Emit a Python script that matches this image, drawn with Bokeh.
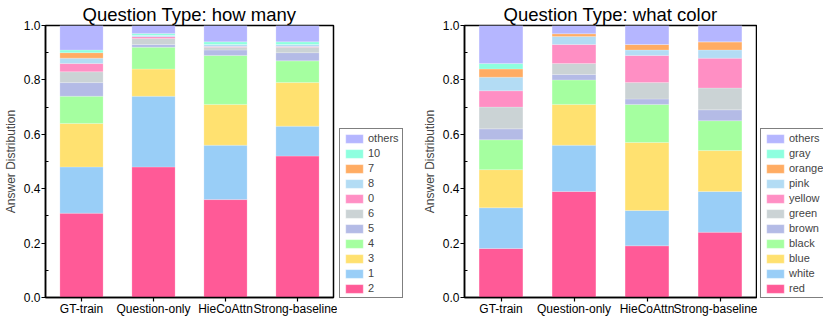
from bokeh.plotting import figure
from bokeh.models import FactorRange, Range1d, Legend, LegendItem, FixedTicker, NumeralTickFormatter
from bokeh.layouts import row
from bokeh.embed import file_html
from bokeh.resources import INLINE

models = ["GT-train", "Question-only", "HieCoAttn", "Strong-baseline"]

# ---- Question Type: how many (segment proportions, bottom to top) ----
hm_answers = ["2", "1", "3", "4", "5", "6", "0", "8", "7", "10", "others"]
hm_2 = [0.31, 0.48, 0.36, 0.52]
hm_1 = [0.17, 0.26, 0.20, 0.11]
hm_3 = [0.16, 0.10, 0.15, 0.16]
hm_4 = [0.10, 0.08, 0.18, 0.08]
hm_5 = [0.05, 0.01, 0.02, 0.03]
hm_6 = [0.04, 0.022, 0.01, 0.02]
hm_0 = [0.03, 0.007, 0.003, 0.003]
hm_8 = [0.02, 0.005, 0.007, 0.007]
hm_7 = [0.02, 0.0, 0.0, 0.0]
hm_10 = [0.01, 0.007, 0.01, 0.01]
hm_others = [0.09, 0.029, 0.06, 0.06]

# ---- Question Type: what color ----
wc_answers = ["red", "white", "blue", "black", "brown", "green", "yellow", "pink", "orange", "gray", "others"]
wc_red = [0.18, 0.39, 0.19, 0.24]
wc_white = [0.15, 0.17, 0.13, 0.15]
wc_blue = [0.14, 0.15, 0.25, 0.15]
wc_black = [0.11, 0.09, 0.14, 0.11]
wc_brown = [0.04, 0.02, 0.02, 0.04]
wc_green = [0.08, 0.04, 0.06, 0.08]
wc_yellow = [0.06, 0.07, 0.10, 0.11]
wc_pink = [0.05, 0.03, 0.02, 0.03]
wc_orange = [0.03, 0.01, 0.02, 0.03]
wc_gray = [0.02, 0.0, 0.0, 0.0]
wc_others = [0.14, 0.03, 0.07, 0.06]

y_ticks = [0.0, 0.2, 0.4, 0.6, 0.8, 1.0]
y_minor = [0.1, 0.3, 0.5, 0.7, 0.9]

colors = ["#FF5A97", "#99CEF7", "#FFE170", "#A5FFA0", "#B4BBE6", "#CBD3D5",
          "#FF8FC4", "#B3DCF4", "#FFAC63", "#8EFFDF", "#B5B6FF"]

hm_series = [hm_2, hm_1, hm_3, hm_4, hm_5, hm_6, hm_0, hm_8, hm_7, hm_10, hm_others]
wc_series = [wc_red, wc_white, wc_blue, wc_black, wc_brown, wc_green, wc_yellow,
             wc_pink, wc_orange, wc_gray, wc_others]

FONT = "Liberation Sans"


def make_fig(title, series, frame_w, border_right):
    data = {"model": models}
    keys = []
    for i, s in enumerate(series):
        k = "s%d" % i
        data[k] = s
        keys.append(k)
    p = figure(x_range=FactorRange(*models), y_range=Range1d(0, 1),
               frame_width=frame_w, frame_height=272, output_backend="svg",
               toolbar_location=None, title=title,
               min_border_left=30, min_border_right=border_right,
               min_border_top=0, min_border_bottom=0)
    p.vbar_stack(keys, x="model", width=0.6, color=colors, source=data,
                 line_color="white", line_alpha=0.4, line_width=0.5)
    p.title.align = "center"
    p.title.text_font = FONT
    p.title.text_font_size = "18.5px"
    p.title.text_font_style = "normal"
    p.title.text_color = "black"
    p.title.standoff = 2
    p.title.offset = 0

    p.xgrid.visible = False
    p.ygrid.visible = False
    p.outline_line_color = "black"
    p.outline_line_width = 1.5
    p.outline_line_alpha = 1

    for ax in (p.xaxis[0], p.yaxis[0]):
        ax.axis_line_width = 1.5
        ax.axis_line_color = "black"
        ax.major_tick_line_width = 1.2
        ax.major_tick_in = 0
        ax.major_tick_out = 4
        ax.major_label_text_font = FONT
        ax.major_label_text_font_size = "12px"
        ax.major_label_text_color = "black"
        ax.major_label_standoff = 1

    p.yaxis.ticker = FixedTicker(ticks=y_ticks, minor_ticks=y_minor)
    p.yaxis.formatter = NumeralTickFormatter(format="0.0")
    p.yaxis.minor_tick_in = 3
    p.yaxis.minor_tick_out = 0
    p.yaxis.minor_tick_line_width = 1.2
    p.yaxis.axis_label = "Answer Distribution"
    p.yaxis.axis_label_text_font = FONT
    p.yaxis.axis_label_text_font_size = "12px"
    p.yaxis.axis_label_text_font_style = "normal"
    p.yaxis.axis_label_standoff = 3
    p.xaxis.major_label_standoff = 0
    return p


def make_legend_fig(answers, width, x_off, y_off):
    lf = figure(width=width, height=320, x_range=Range1d(0, 1), y_range=Range1d(0, 1),
                output_backend="svg", toolbar_location=None,
                x_axis_location=None, y_axis_location=None,
                min_border_left=0, min_border_right=0, min_border_top=0, min_border_bottom=0)
    lf.grid.visible = False
    lf.outline_line_color = None
    items = []
    for a, c in zip(answers, colors):
        r = lf.vbar(x=[5], top=[0.5], width=0.1, color=c, line_color="white", line_alpha=0.4)
        items.append(LegendItem(label=a, renderers=[r]))
    items.reverse()
    leg = Legend(items=items, location=(x_off, y_off))
    leg.border_line_color = "black"
    leg.border_line_width = 1
    leg.label_text_font = FONT
    leg.label_text_font_size = "11px"
    leg.label_height = 11
    leg.glyph_height = 11
    leg.glyph_width = 22
    leg.spacing = 3
    leg.padding = 3
    leg.margin = 0
    leg.label_standoff = 3
    leg.background_fill_alpha = 1
    lf.add_layout(leg, "center")
    return lf


p1 = make_fig("Question Type: how many", hm_series, 288, 4)
l1 = make_legend_fig(hm_answers, 82, 2, 1)
p2 = make_fig("Question Type: what color", wc_series, 292, 1)
l2 = make_legend_fig(wc_answers, 66, 3, 1)
p = row(p1, l1, p2, l2)

open("out.html", "w").write(file_html(p, INLINE))
